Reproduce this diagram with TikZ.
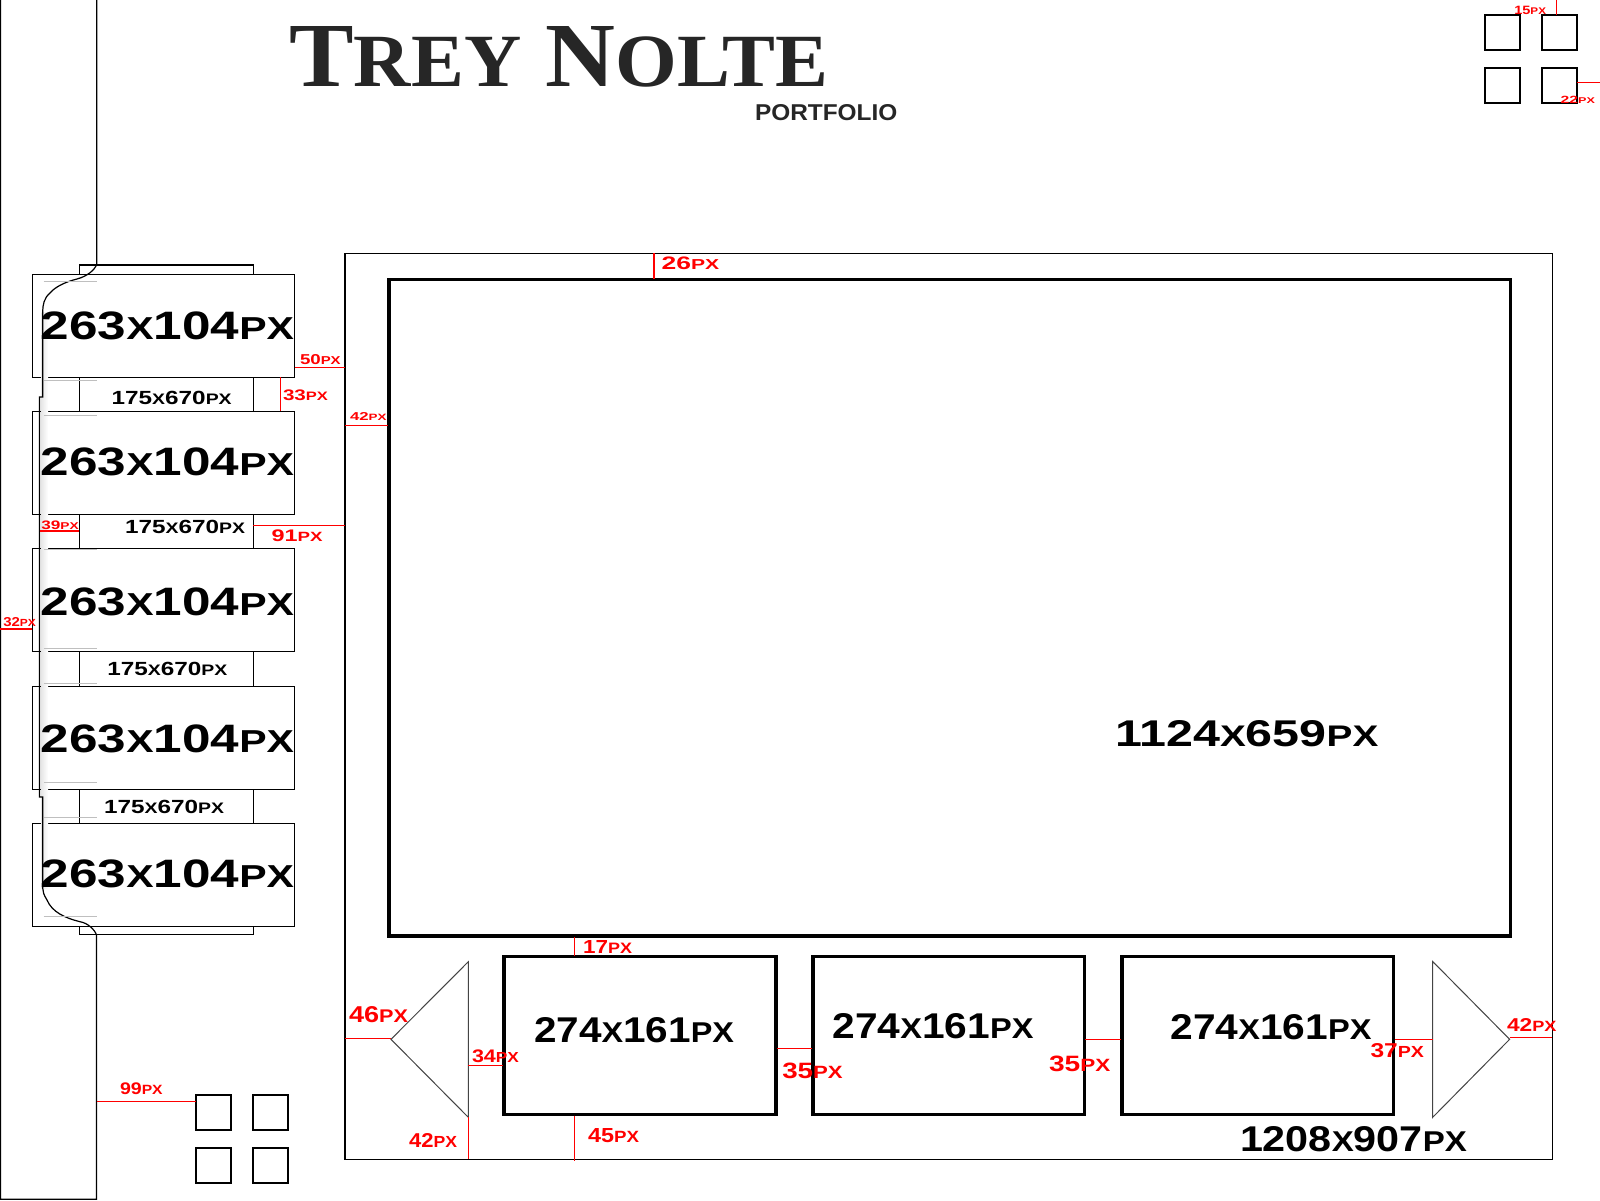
\documentclass[tikz,border=0pt]{standalone}
\usepackage{fontspec}
\usepackage{graphicx}
\setmainfont{Liberation Sans}
\newfontfamily\titlefont{Liberation Serif}
\newdimen\pxu \pxu=0.5pt
\newcommand\fitbox[3]{\resizebox{#1\pxu}{#2\pxu}{\bfseries #3}}
\newcommand\smc[1]{\scalebox{0.8}{#1}}
\newcommand\tsmc[1]{\scalebox{0.82}{#1}}
\definecolor{titlegray}{HTML}{262626}
\definecolor{dimred}{HTML}{FF0000}
\definecolor{trigray}{HTML}{444444}
\tikzset{
  lbl/.style={anchor=south west, inner sep=0pt, outer sep=0pt},
  thinbox/.style={draw=black, line width=0.65pt, fill=white},
  thickbox/.style={draw=black, line width=1.6pt},
  sqbox/.style={draw=black, line width=0.95pt},
  dimline/.style={draw=dimred, line width=0.75pt},
  tri/.style={draw=trigray, line width=0.5pt},
  grayline/.style={draw=black!25, line width=0.5pt},
  sideline/.style={draw=black, line width=0.6pt}
}
\begin{document}
\begin{tikzpicture}[x=0.5pt,y=-0.5pt]
\useasboundingbox (0,0) rectangle (1600,1200);
\fill[white] (0,0) rectangle (1600,1200);

% ---------------- title ----------------
\node[lbl, text=titlegray] (title) at (289.3,87.7)
  {\fitbox{539}{60}{\titlefont\bfseries T\tsmc{REY} N\tsmc{OLTE}}};
\node[lbl, text=titlegray] (portfolio) at (755,121)
  {\fitbox{142.3}{16}{PORTFOLIO}};

% ---------------- left column ----------------
\draw[thinbox] (79.3,265) rectangle (253.3,934.3);
\coordinate (panelTR) at (253.3,525.3);
\coordinate (panelL) at (79.3,531);

\foreach \t/\n in {274.3/1,411.3/2,548.7/3,686.3/4,823.3/5}{
  \draw[thinbox] (32.3,\t) rectangle (294.7,\t+103);
}
% gradient strip
\shade[left color=black!9, right color=white] (41.5,312) rectangle (48,888);

% sidebar outline
\draw[sideline] (0.6,0) -- (0.6,1199.3) -- (96.5,1199.3) -- (96.5,935)
  .. controls (95,930) and (88,923) .. (80,921.7)
  .. controls (65,918) and (52,912) .. (47,900)
  .. controls (44,895) and (42.7,892) .. (42.7,888)
  -- (42.7,797) -- (39.5,797) -- (39.5,397) -- (42.7,397) -- (42.7,312)
  .. controls (42.7,305) and (44,298) .. (50,293)
  .. controls (55,287) and (65,282) .. (77,279)
  .. controls (88,276) and (94,270) .. (96.7,265) -- (96.7,0);

\foreach \y in {281.7,380,415,549.3,648.3,683.3,782.3,817.3,916.7}{
  \draw[grayline] (43.5,\y) -- (97,\y);
}

% box labels
\node[lbl] (b1) at (40.7,339.5) {\fitbox{253.3}{27.7}{263\smc{X}104\smc{PX}}};
\node[lbl] (b2) at (40.7,476.0) {\fitbox{253.3}{27.7}{263\smc{X}104\smc{PX}}};
\node[lbl] (b3) at (40.7,615.5) {\fitbox{253.3}{27.7}{263\smc{X}104\smc{PX}}};
\node[lbl] (b4) at (40.7,752.5) {\fitbox{253.3}{27.7}{263\smc{X}104\smc{PX}}};
\node[lbl] (b5) at (40.7,888.0) {\fitbox{253.3}{27.7}{263\smc{X}104\smc{PX}}};

\node[lbl] (g1) at (111.7,404.3) {\fitbox{120}{13.3}{175\smc{X}670\smc{PX}}};
\node[lbl] (g2) at (125,533.3) {\fitbox{120}{13.3}{175\smc{X}670\smc{PX}}};
\node[lbl] (g3) at (107.3,675.7) {\fitbox{120}{13.3}{175\smc{X}670\smc{PX}}};
\node[lbl] (g4) at (104,813.3) {\fitbox{120}{13.3}{175\smc{X}670\smc{PX}}};

% ---------------- main frame ----------------
\draw[draw=black, line width=0.65pt] (345,253.3) rectangle (1552.3,1159.2);
\draw[thickbox] (389,279.6) rectangle (1510.4,935.9);
\node[lbl] (main) at (1115,746.7) {\fitbox{263.3}{26}{1124\smc{X}659\smc{PX}}};
\node[lbl] (frame) at (1240,1152) {\fitbox{227}{25}{1208\smc{X}907\smc{PX}}};

% thumbnails
\draw[thickbox] (504,956.5) rectangle (776,1114.5);
\draw[thickbox] (813,956.5) rectangle (1084.4,1114.5);
\draw[thickbox] (1122,956.5) rectangle (1393.5,1114.5);
\node[lbl] (ta) at (534,1043) {\fitbox{200}{25}{274\smc{X}161\smc{PX}}};
\node[lbl] (tb) at (832.5,1038.5) {\fitbox{201}{25}{274\smc{X}161\smc{PX}}};
\node[lbl] (tc) at (1170.5,1039.5) {\fitbox{201}{25}{274\smc{X}161\smc{PX}}};

% arrows (triangles)
\draw[tri] (468.3,961.7) -- (391,1039.3) -- (468.3,1117.3) -- cycle;
\draw[tri] (1432.7,961.5) -- (1509.6,1039.3) -- (1432.7,1117.3) -- cycle;

% small squares
\foreach \x in {1485.3,1542.3}{\foreach \y in {15.3,68.3}{
  \draw[sqbox] (\x,\y) rectangle ++(35,35);}}
\foreach \x in {196.3,253.3}{\foreach \y in {1095.3,1148.3}{
  \draw[sqbox] (\x,\y) rectangle ++(35,35);}}

% ---------------- red dimension lines ----------------
\draw[dimline] (1556.7,0) -- (1556.7,15.3);
\draw[dimline] (1577.3,82.3) -- (1600,82.3);
\draw[dimline] (96.5,1101.3) -- (196.3,1101.3);
\draw[dimline] (294.7,367.3) -- (345,367.3);
\draw[dimline] (280.3,377.3) -- (280.3,411.3);
\draw[dimline] (345,425.7) -- (388,425.7);
\draw[dimline] (panelTR) -- (345,525.3);
\draw[dimline] (39.5,531) -- (panelL);
\draw[dimline] (0,629) -- (32.3,629);
\draw[dimline, line width=1pt] (653.7,253.3) -- (653.7,278.6);
\draw[dimline] (574.7,937) -- (574.7,955.5);
\draw[dimline] (574.7,1115.5) -- (574.7,1160.5);
\draw[dimline] (345,1038.7) -- (391,1038.7);
\draw[dimline] (468.3,1065.3) -- (503,1065.3);
\draw[dimline] (468.3,1117.3) -- (468.3,1159);
\draw[dimline] (777,1048.7) -- (812,1048.7);
\draw[dimline] (1085.4,1039.3) -- (1121,1039.3);
\draw[dimline] (1394.5,1039.3) -- (1432.7,1039.3);
\draw[dimline] (1509.6,1037.5) -- (1552.3,1037.5);

% ---------------- red labels ----------------
\begin{scope}[every node/.append style={text=dimred}]
\node[lbl] (d15) at (1514.3,15) {\fitbox{31.7}{8.3}{15\smc{PX}}};
\node[lbl] (d22) at (1560.7,103.3) {\fitbox{34.3}{7.3}{22\smc{PX}}};
\node[lbl] (d99) at (120,1095) {\fitbox{42.7}{11.7}{99\smc{PX}}};
\node[lbl] (d50) at (300,365) {\fitbox{40.7}{10}{50\smc{PX}}};
\node[lbl] (d33) at (283,400.7) {\fitbox{45}{10.7}{33\smc{PX}}};
\node[lbl] (d42a) at (350,420.7) {\fitbox{36.5}{8}{42\smc{PX}}};
\node[lbl] (d91) at (271.7,541.7) {\fitbox{51}{11.7}{91\smc{PX}}};
\node[lbl] (d39) at (41.3,529.3) {\fitbox{37.4}{8.6}{39\smc{PX}}};
\node[lbl] (d32) at (3.3,626.7) {\fitbox{32.7}{9}{32\smc{PX}}};
\node[lbl] (d26) at (661.7,269.3) {\fitbox{57.6}{12.6}{26\smc{PX}}};
\node[lbl] (d17) at (583,953) {\fitbox{49}{13}{17\smc{PX}}};
\node[lbl] (d46) at (349,1022.7) {\fitbox{59}{16}{46\smc{PX}}};
\node[lbl] (d34) at (472,1062.7) {\fitbox{47}{12.7}{34\smc{PX}}};
\node[lbl] (d42b) at (409,1147) {\fitbox{48}{14}{42\smc{PX}}};
\node[lbl] (d45) at (588,1143) {\fitbox{51}{14}{45\smc{PX}}};
\node[lbl] (d35a) at (782.3,1078.3) {\fitbox{60.5}{15.5}{35\smc{PX}}};
\node[lbl] (d35b) at (1049,1072) {\fitbox{61.3}{15.5}{35\smc{PX}}};
\node[lbl] (d37) at (1370.5,1057.3) {\fitbox{53.5}{14}{37\smc{PX}}};
\node[lbl] (d42c) at (1507,1031) {\fitbox{49.5}{13}{42\smc{PX}}};
\end{scope}
\end{tikzpicture}
\end{document}
